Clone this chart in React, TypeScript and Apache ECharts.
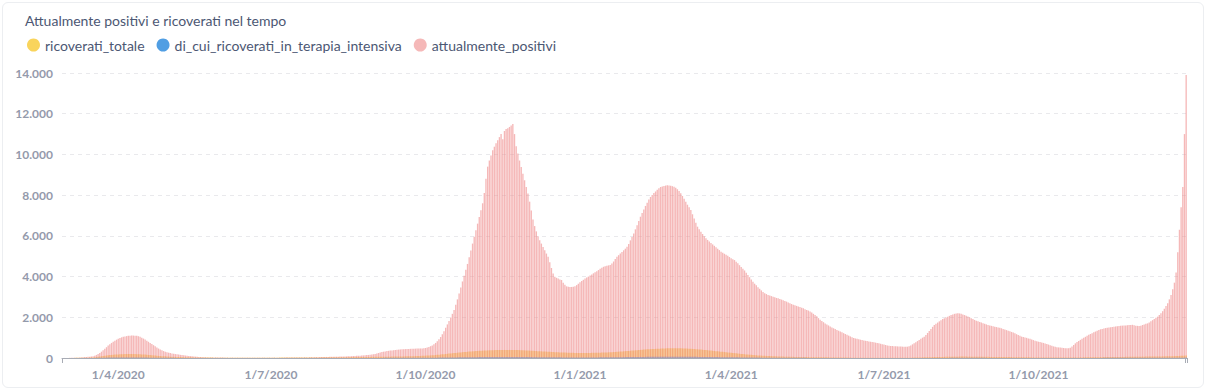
import React, { useEffect, useRef } from "react";
import * as echarts from "echarts";

const START_DATE = "2020-02-28";
const X_TICK_LABELS = ["1/4/2020", "1/7/2020", "1/10/2020", "1/1/2021", "1/4/2021", "1/7/2021", "1/10/2021"];
const Y_MIN = 0;
const Y_MAX = 14000;
const Y_STEP = 2000;
const TITLE = "Attualmente positivi e ricoverati nel tempo";
const SERIES_NAMES = ["ricoverati_totale", "di_cui_ricoverati_in_terapia_intensiva", "attualmente_positivi"];
const SERIES_COLORS = ["#F9D45C", "#509EE3", "#EF8C8C"];

const attualmente_positivi = [
  2,2,3,
  3,5,8,10,12,15,18,22,28,35,
  42,50,58,66,75,90,115,150,195,250,
  310,380,450,530,610,680,740,800,850,900,
  945,985,1015,1040,1060,1075,1088,1096,1100,1102,
  1098,1090,1070,1040,1000,955,905,850,795,740,
  685,630,575,520,465,415,375,340,310,285,
  262,242,224,208,193,180,167,155,143,132,
  121,111,101,92,83,75,67,60,53,47,
  41,36,32,29,27,25,24,23,22,21,
  20,20,19,19,18,18,18,17,17,17,
  16,15,15,14,14,14,14,
  14,14,13,13,13,13,13,13,14,14,
  14,15,15,15,16,16,16,17,17,17,
  18,18,19,19,20,20,21,22,22,23,
  24,25,26,27,28,29,30,32,34,36,
  38,40,42,44,46,48,50,52,54,56,
  58,60,62,64,66,68,70,73,76,79,
  82,86,90,95,100,105,110,116,122,128,
  135,142,150,160,172,185,200,220,245,270,
  295,310,325,340,352,363,373,382,392,402,
  412,420,427,433,438,442,446,450,453,456,
  459,462,465,468,471,474,490,510,540,580,
  620,672,740,820,920,1030,1170,1320,1480,1650,
  1820,1990,2170,2360,2610,2880,3170,3460,3760,4040,
  4330,4620,4950,5280,5620,5960,6280,6600,6930,7260,
  7600,8100,8800,9400,9700,9950,10200,10380,10550,10700,
  10850,11000,10750,11150,11250,11280,11350,11420,11500,11000,
  10400,10050,9700,9380,9050,8730,8400,8080,7680,7250,
  6800,6480,6220,5980,5780,5620,5450,5290,5130,4970,
  4700,4420,4150,3990,3940,3900,3860,3830,3700,3600,
  3520,3500,3490,3490,3500,3530,3580,3650,3720,3780,
  3840,3900,3950,4000,4050,4100,4160,4210,4260,4320,
  4380,4430,4480,4510,4530,4550,4570,4640,4740,4860,
  4970,5050,5130,5210,5290,5370,5460,5600,5780,5950,
  6120,6320,6520,6730,6940,7120,7300,7470,7630,7780,
  7910,8010,8100,8180,8260,8340,8400,8430,8450,8470,
  8480,8470,8460,8440,8410,8360,8290,8200,8090,7960,
  7820,7680,7530,7400,7270,7060,6850,6650,6450,6320,
  6200,6090,5980,5880,5800,5720,5650,5580,5510,5440,
  5370,5300,5220,5170,5120,5070,5020,4960,4900,4850,
  4810,4730,4650,4560,4470,4380,4300,4190,4080,3970,
  3860,3750,3650,3570,3480,3400,3320,3240,3180,3140,
  3100,3070,3040,3010,2980,2950,2930,2900,2870,2840,
  2800,2770,2730,2690,2650,2610,2590,2560,2530,2500,
  2470,2440,2400,2360,2330,2280,2230,2170,2110,2050,
  1960,1880,1820,1760,1700,1650,1600,1550,1500,1460,
  1420,1380,1340,1300,1260,1220,1180,1140,1100,1060,
  1020,980,960,940,920,900,880,860,845,830,
  815,800,785,770,755,740,720,700,680,660,
  640,610,600,590,585,580,575,570,565,560,
  558,556,555,556,580,620,670,720,770,830,
  890,950,1000,1050,1130,1230,1330,1430,1530,1620,
  1680,1740,1800,1860,1910,1950,1990,2030,2070,2110,
  2140,2170,2190,2200,2190,2170,2140,2110,2080,2040,
  2000,1950,1910,1870,1830,1800,1770,1740,1710,1680,
  1650,1620,1600,1580,1560,1540,1520,1500,1480,1460,
  1430,1400,1370,1340,1310,1280,1250,1210,1170,1130,
  1090,1050,1030,1010,990,960,940,910,880,850,
  820,800,780,760,740,710,690,660,630,600,
  570,550,530,520,510,500,490,480,476,480,
  500,560,640,720,790,840,890,940,990,1040,
  1090,1140,1180,1220,1260,1300,1340,1380,1410,1430,
  1450,1470,1480,1500,1510,1520,1540,1550,1560,1570,
  1580,1590,1600,1600,1610,1620,1620,1630,1610,1590,
  1580,1570,1580,1620,1650,1680,1700,1750,1800,1860,
  1920,1980,2030,2110,2200,2300,2420,2550,2690,2880,
  3100,3380,3700,4200,5200,6300,7400,8400,11000,13900,
];

const ricoverati_totale = [
  1,1,2,
  2,3,4,5,6,7,8,9,10,12,
  14,16,18,21,25,30,38,48,60,72,
  85,98,110,122,133,143,152,160,167,173,
  178,182,186,189,191,193,194,195,195,194,
  192,190,187,183,178,172,166,159,151,143,
  135,127,119,111,104,97,91,85,80,75,
  70,66,62,58,55,52,49,46,43,41,
  39,37,35,33,31,30,28,27,26,25,
  24,23,22,21,20,20,19,18,18,17,
  17,16,16,15,15,15,14,14,14,13,
  13,13,12,12,12,12,12,
  12,12,12,12,13,13,13,13,14,14,
  14,15,15,15,16,16,17,17,18,18,
  19,19,20,20,21,21,22,22,23,23,
  24,24,25,25,26,26,27,27,28,28,
  29,29,30,30,31,31,32,32,33,33,
  34,34,35,35,36,37,38,39,40,41,
  42,43,44,45,46,47,48,49,50,51,
  52,53,54,55,56,57,58,59,60,61,
  62,63,64,65,66,67,68,69,70,71,
  72,74,76,78,80,82,84,86,88,90,
  93,96,99,102,106,110,114,118,123,128,
  134,140,147,154,162,170,179,188,197,206,
  215,224,233,242,251,260,268,276,284,292,
  300,307,314,321,328,334,340,346,351,356,
  361,365,369,373,377,380,383,386,389,391,
  393,395,396,397,398,398,398,397,396,394,
  392,389,386,383,379,375,371,367,362,357,
  352,347,342,337,332,327,322,317,312,307,
  302,297,292,288,284,280,276,272,268,265,
  262,259,256,254,252,250,249,248,247,247,
  247,247,248,249,250,252,254,256,258,260,
  262,265,268,271,275,279,283,288,293,298,
  304,310,316,322,329,336,343,350,357,364,
  371,378,385,392,399,406,412,418,424,430,
  435,440,445,450,454,458,462,465,468,471,
  473,475,476,477,477,477,476,475,473,471,
  468,465,461,457,452,447,441,435,428,421,
  414,406,398,390,382,373,364,355,346,337,
  328,319,310,301,292,283,274,265,256,247,
  238,229,220,211,202,193,185,177,169,161,
  154,147,140,134,128,122,117,112,107,103,
  99,95,91,87,84,81,78,75,72,69,
  66,64,62,60,58,56,54,52,50,48,
  46,45,44,43,42,41,40,39,38,37,
  36,35,34,33,32,31,30,29,28,27,
  26,25,24,23,22,21,20,19,18,17,
  16,15,15,14,14,13,13,12,12,12,
  11,11,11,10,10,10,10,10,10,10,
  10,10,10,10,10,11,11,11,12,12,
  13,13,14,15,16,17,18,20,22,24,
  26,28,30,32,34,36,38,40,42,44,
  46,48,50,52,54,56,58,60,62,63,
  64,65,66,67,67,68,68,68,68,67,
  67,66,65,64,63,62,61,60,59,58,
  57,56,55,54,53,52,51,50,49,48,
  47,46,45,44,43,42,41,40,39,38,
  37,36,35,34,33,32,31,30,29,28,
  27,26,26,25,25,24,24,23,23,22,
  22,22,21,21,21,21,21,21,22,22,
  23,24,25,26,27,28,29,30,31,32,
  33,34,35,36,37,38,39,40,41,42,
  43,44,45,46,47,48,49,50,51,52,
  53,54,55,56,57,58,59,60,61,62,
  63,64,65,66,67,68,69,70,71,72,
  73,74,75,76,77,78,80,82,84,86,
  88,90,93,96,99,102,106,110,114,118,
];

const terapia_intensiva = [
  0,0,0,
  0,0,0,1,1,1,1,1,2,2,
  2,2,3,3,4,5,6,8,10,12,
  14,16,18,20,22,24,25,26,27,28,
  29,29,30,30,30,30,30,29,29,28,
  27,26,25,24,23,22,21,20,19,18,
  17,16,15,14,13,12,11,10,10,9,
  9,8,8,7,7,6,6,5,5,5,
  4,4,4,4,3,3,3,3,3,3,
  2,2,2,2,2,2,2,2,2,2,
  2,2,2,1,1,1,1,1,1,1,
  1,1,1,1,1,1,1,
  1,1,1,1,1,1,1,1,1,1,
  1,1,1,1,1,1,1,1,1,1,
  1,1,1,1,1,1,1,1,2,2,
  2,2,2,2,2,2,2,2,2,2,
  2,2,2,2,3,3,3,3,3,3,
  3,3,3,3,3,3,4,4,4,4,
  4,4,4,4,4,5,5,5,5,5,
  5,5,5,5,6,6,6,6,6,6,
  6,6,7,7,7,7,7,7,8,8,
  8,8,8,9,9,9,9,10,10,10,
  10,11,11,11,12,12,13,13,14,14,
  15,16,17,18,19,20,21,22,23,24,
  25,26,27,28,29,30,31,32,33,34,
  35,36,37,38,39,40,41,42,43,44,
  45,46,47,48,48,49,49,50,50,50,
  51,51,51,51,51,51,50,50,50,49,
  49,48,48,47,47,46,45,45,44,43,
  42,42,41,40,39,38,38,37,36,35,
  35,34,33,33,32,32,31,31,30,30,
  30,29,29,29,29,28,28,28,28,28,
  28,28,28,28,29,29,29,30,30,31,
  31,32,32,33,34,34,35,36,37,38,
  39,40,41,42,43,44,45,46,47,48,
  49,50,51,52,53,54,55,56,57,58,
  59,60,61,62,62,63,63,64,64,64,
  65,65,65,65,65,64,64,64,63,63,
  62,62,61,60,60,59,58,57,56,55,
  54,53,52,51,50,49,48,47,46,45,
  44,43,42,41,40,39,38,37,36,35,
  34,33,32,31,30,29,28,27,26,25,
  24,23,22,21,20,19,18,17,16,16,
  15,15,14,14,13,13,12,12,11,11,
  10,10,10,9,9,9,8,8,8,7,
  7,7,7,6,6,6,6,5,5,5,
  5,5,4,4,4,4,4,3,3,3,
  3,3,3,3,3,2,2,2,2,2,
  2,2,2,2,2,2,2,1,1,1,
  1,1,1,1,1,1,1,1,1,1,
  1,1,1,1,1,1,1,1,1,1,
  1,1,1,1,1,1,2,2,2,2,
  2,2,3,3,3,3,4,4,4,4,
  5,5,5,5,6,6,6,6,7,7,
  7,7,7,8,8,8,8,8,8,8,
  8,8,8,8,7,7,7,7,7,7,
  7,6,6,6,6,6,6,6,5,5,
  5,5,5,5,5,5,4,4,4,4,
  4,4,4,4,4,4,3,3,3,3,
  3,3,3,3,3,3,3,3,3,3,
  3,3,3,3,3,3,3,3,3,3,
  3,3,4,4,4,4,4,4,5,5,
  5,5,5,5,6,6,6,6,6,6,
  7,7,7,7,7,7,8,8,8,8,
  8,8,9,9,9,9,9,9,10,10,
  10,10,10,10,11,11,11,11,11,12,
  12,12,12,12,13,13,13,13,14,14,
  14,15,15,16,16,17,17,18,18,19,
];

function buildDates(n: number): string[] {
  const [y, m, d] = START_DATE.split("-").map(Number);
  const out: string[] = [];
  for (let i = 0; i < n; i++) {
    const dt = new Date(Date.UTC(y, m - 1, d + i));
    out.push(`${dt.getUTCDate()}/${dt.getUTCMonth() + 1}/${dt.getUTCFullYear()}`);
  }
  return out;
}

function fmtThousands(v: number): string {
  return String(v).replace(/\B(?=(\d{3})+(?!\d))/g, ".");
}

const FONT = "Lato, 'Noto Sans', sans-serif";
const LABEL_COLOR = "#949aab";
const TEXT_COLOR = "#4c5773";

export default function App() {
  const ref = useRef<HTMLDivElement>(null);

  useEffect(() => {
    document.body.style.margin = "0";
    if (!ref.current) return;
    const chart = echarts.init(ref.current, null, { renderer: "svg" });
    const n = attualmente_positivi.length;
    const dates = buildDates(n);
    const seriesData = [ricoverati_totale, terapia_intensiva, attualmente_positivi];
    const opacities = [1, 1, 0.62];

    chart.setOption({
      animation: false,
      title: {
        text: TITLE,
        left: 20,
        top: 8,
        textStyle: { fontFamily: FONT, fontSize: 14, fontWeight: "normal", color: TEXT_COLOR },
      },
      legend: {
        data: SERIES_NAMES,
        left: 22,
        top: 33,
        icon: "circle",
        itemWidth: 13,
        itemHeight: 13,
        itemGap: 12,
        textStyle: { fontFamily: FONT, fontSize: 14, color: TEXT_COLOR },
      },
      grid: { left: 62, right: 21, top: 73, bottom: 34, containLabel: false },
      xAxis: {
        type: "category",
        data: dates,
        boundaryGap: true,
        axisLine: { lineStyle: { color: "#a8acb5", width: 1 } },
        axisTick: {
          show: true,
          interval: (i: number) => i === 0 || i === n - 1,
          length: 5,
          lineStyle: { color: "#a8acb5" },
        },
        axisLabel: {
          interval: (_i: number, v: string) => X_TICK_LABELS.includes(v),
          color: LABEL_COLOR,
          fontFamily: FONT,
          fontWeight: "bold",
          fontSize: 12,
          margin: 10,
        },
        splitLine: { show: false },
      },
      yAxis: {
        type: "value",
        min: Y_MIN,
        max: Y_MAX,
        interval: Y_STEP,
        axisLine: { show: false },
        axisTick: { show: false },
        axisLabel: {
          formatter: (v: number) => fmtThousands(v),
          color: LABEL_COLOR,
          fontFamily: FONT,
          fontWeight: "bold",
          fontSize: 12,
          margin: 9,
        },
        splitLine: { lineStyle: { color: "#e9e9ec", type: [4, 4] } },
      },
      series: SERIES_NAMES.map((name, k) => ({
        name,
        type: "bar",
        data: seriesData[k],
        barGap: "-100%",
        barCategoryGap: "20%",
        itemStyle: { color: SERIES_COLORS[k], opacity: opacities[k] },
        emphasis: { disabled: true },
      })),
      color: SERIES_COLORS,
    });
    return () => chart.dispose();
  }, []);

  return (
    <div style={{ position: "relative", width: 1208, height: 392, background: "#fff" }}>
      <div
        style={{
          position: "absolute",
          left: 2,
          top: 2,
          width: 1202,
          height: 386,
          border: "1px solid #eceef1",
          borderRadius: 6,
          boxSizing: "border-box",
        }}
      />
      <div ref={ref} style={{ position: "absolute", left: 0, top: 0, width: 1208, height: 392 }} />
    </div>
  );
}
